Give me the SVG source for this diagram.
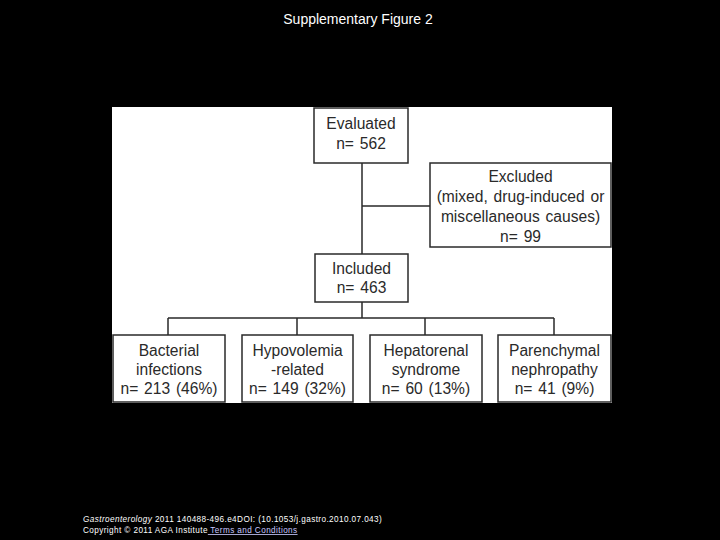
<svg xmlns="http://www.w3.org/2000/svg" width="720" height="540" viewBox="0 0 720 540">
<style>
.box{fill:#fff;stroke:#2a2a2a;stroke-width:1.5}
.t{font-family:"Liberation Sans",Arial,sans-serif;font-size:15.6px;word-spacing:1.5px;fill:#2a2a2a;text-anchor:middle}
.ln{stroke:#2a2a2a;stroke-width:1.5;fill:none}
.hd{font-family:"Liberation Sans",Arial,sans-serif;font-size:14px;fill:#fff;text-anchor:middle}
.ft{font-family:"Liberation Sans",Arial,sans-serif;font-size:8.2px;letter-spacing:0.4px;fill:#fff}
</style>
<rect x="0" y="0" width="720" height="540" fill="#000"/>
<text class="hd" x="358" y="24">Supplementary Figure 2</text>
<rect x="112" y="107" width="500" height="296" fill="#fff"/>
<g id="connectors">
<path class="ln" d="M362 163 V254 M362 206 H430 M362 302 V318 M168 318 H554 M168 318 V335 M297 318 V335 M425 318 V335 M554 318 V335"/>
</g>
<g id="evaluated"><rect class="box" x="314" y="108" width="94" height="55"/>
<text class="t" x="361" y="129">Evaluated</text><text class="t" x="361" y="149">n= 562</text></g>
<g id="excluded"><rect class="box" x="430" y="163" width="181" height="84"/>
<text class="t" x="520.5" y="182">Excluded</text><text class="t" x="520.5" y="202">(mixed, drug-induced or</text><text class="t" x="520.5" y="222">miscellaneous causes)</text><text class="t" x="520.5" y="242">n= 99</text></g>
<g id="included"><rect class="box" x="315" y="254" width="93" height="48"/>
<text class="t" x="361.5" y="274">Included</text><text class="t" x="361.5" y="293">n= 463</text></g>
<g id="bacterial"><rect class="box" x="113" y="335" width="112" height="67"/>
<text class="t" x="169" y="356">Bacterial</text><text class="t" x="169" y="375">infections</text><text class="t" x="169" y="394">n= 213 (46%)</text></g>
<g id="hypovolemia"><rect class="box" x="242" y="335" width="111" height="67"/>
<text class="t" x="297.5" y="356">Hypovolemia</text><text class="t" x="297.5" y="375">-related</text><text class="t" x="297.5" y="394">n= 149 (32%)</text></g>
<g id="hepatorenal"><rect class="box" x="370" y="335" width="112" height="67"/>
<text class="t" x="426" y="356">Hepatorenal</text><text class="t" x="426" y="375">syndrome</text><text class="t" x="426" y="394">n= 60 (13%)</text></g>
<g id="parenchymal"><rect class="box" x="498" y="335" width="113" height="67"/>
<text class="t" x="554.5" y="356">Parenchymal</text><text class="t" x="554.5" y="375">nephropathy</text><text class="t" x="554.5" y="394">n= 41 (9%)</text></g>
<text class="ft" x="83" y="522"><tspan font-style="italic">Gastroenterology</tspan> 2011 140488-496.e4DOI: (10.1053/j.gastro.2010.07.043)</text>
<text class="ft" x="83" y="533">Copyright © 2011 AGA Institute<tspan fill="#c8c8ff" text-decoration="underline"> Terms and Conditions</tspan></text>
</svg>
